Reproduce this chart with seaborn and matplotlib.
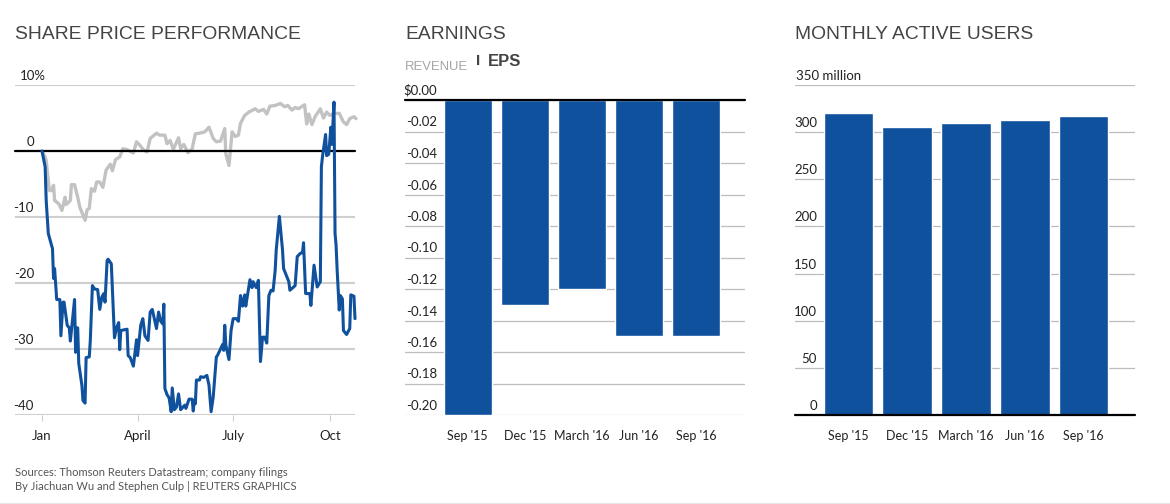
import matplotlib
import pandas as pd
import seaborn as sns
from matplotlib import pyplot as plt
from matplotlib.lines import Line2D

matplotlib.use("Agg")

# share price, days since Jan 1 / percent change
blue_days = [0, 3, 4, 6, 10, 11, 12, 14, 17, 18, 20, 21, 24, 26, 27, 31, 32, 33, 34, 35, 38, 39, 41, 42, 45, 46, 48, 50, 53, 55,
             57, 59, 60, 62, 63, 66, 69, 71, 73, 74, 75, 81, 82, 84, 87, 90, 91, 94, 96, 98, 101, 103, 105, 109, 111, 113, 115, 116, 117, 119,
             121, 123, 124, 126, 128, 130, 132, 136, 137, 140, 143, 144, 145, 146, 147, 150, 151, 154, 157, 159, 161, 163, 166, 167, 170, 172, 173, 174, 175, 178,
             180, 182, 185, 187, 189, 191, 193, 194, 198, 200, 201, 204, 206, 208, 210, 212, 214, 216, 218, 220, 222, 223, 226, 229, 230, 235, 236, 241, 243, 246,
             248, 249, 251, 255, 256, 259, 262, 265, 266, 267, 270, 271, 273, 275, 276, 278, 279, 280, 281, 283, 284, 286, 287, 290, 293, 294, 297, 298]
blue_values = [0, -2.4, -7.5, -12.5, -14.8, -19.3, -17.8, -22.5, -22.5, -28, -22.9, -22.9, -26.4, -26.8, -28.8, -22.5, -30.5, -26.8, -26.8, -32.2, -35.5, -37.8, -38.2, -31.3, -31.2, -28.7, -20.4, -20.9, -21, -24,
               -22.1, -21.6, -22.9, -16.6, -16.4, -17.1, -28.3, -26.8, -26, -30.1, -27.2, -27, -31, -31.3, -32.6, -28.6, -31, -26.4, -25.4, -28, -28.7, -24.4, -24, -26.9, -24.4, -25.8, -26.2, -23.2, -36, -36.9,
               -37.4, -39.5, -35.9, -39.2, -38.8, -36.8, -39.2, -38.5, -39, -37.6, -37.6, -39.4, -37.8, -38.3, -34.7, -34.7, -34.2, -34.3, -34, -35.5, -39.5, -37.3, -31.2, -31, -30, -29.3, -30.2, -26.4, -29.4, -31.6,
               -27.2, -25.4, -25.4, -25.8, -21.9, -23.5, -21.8, -23.5, -19.5, -20.7, -19.8, -20.7, -19.6, -31.9, -28.2, -28.2, -29.1, -21.9, -21.1, -21.2, -18.1, -15, -9.9, -15, -17.8, -19.8, -21.1, -20.4, -16, -15.5,
               -15.4, -13.9, -21.6, -21.6, -23.4, -17.3, -20.6, -19.8, -2.4, -0.9, 2.5, -0.7, -0.5, 3.6, 1, 7.4, -12.5, -14.3, -18, -24.1, -21.9, -22.4, -27.2, -27.8, -26.9, -21.8, -22, -25.4]
gray_days = [0, 3, 4, 7, 9, 11, 12, 16, 19, 22, 23, 27, 28, 31, 34, 36, 41, 43, 45, 47, 50, 52, 55, 58, 61, 65, 67, 70, 74, 77,
             81, 87, 90, 93, 97, 100, 103, 109, 112, 117, 119, 122, 125, 130, 132, 135, 139, 143, 146, 150, 155, 159, 163, 166, 170, 174, 175, 178, 181, 184,
             187, 189, 193, 197, 203, 206, 211, 214, 217, 222, 227, 231, 234, 238, 241, 244, 250, 252, 254, 257, 260, 265, 268, 271, 274, 278, 283, 287, 290, 293,
             297, 299]
gray_values = [0, -0.9, -1.4, -6, -6, -5.2, -7.5, -8, -9, -7, -8.1, -7.5, -5.1, -5.1, -7, -8.5, -10.5, -8.9, -8.7, -5.7, -6.1, -4.7, -4.7, -5.5, -2.9, -2, -3, -1.3, -0.9, 0.35,
               0.2, -0.3, 1.4, 0.9, 0.1, -0.15, 1.9, 2.7, 2.4, 2.4, 1.1, 1.6, 0.25, 2, 0.35, 1, -0.25, 0.35, 2.6, 2.7, 2.9, 3.6, 1.9, 1.4, 1.5, 3.4, -0.4, -2.2, 2.9, 2.2,
               2.4, 4.2, 5.4, 5.9, 6.4, 6, 6.3, 5.6, 6.8, 6.9, 7.2, 6.7, 6.9, 6.2, 6.6, 6.4, 7, 4.1, 5.6, 4, 5.2, 6.4, 5, 5.9, 5.4, 5.7, 5.7, 4.4, 4, 4.9,
               5.2, 4.9]
month_days = [0, 91, 182, 274]
month_labels = ["Jan", "April", "July", "Oct"]
price_ticks = [-40, -30, -20, -10, 0, 10]
price_labels = ["-40", "-30", "-20", "-10", "0", "10%"]

quarters = ["Sep '15", "Dec '15", "March '16", "Jun '16", "Sep '16"]
eps = [-0.20, -0.13, -0.12, -0.15, -0.15]
eps_ticks = [-0.20, -0.18, -0.16, -0.14, -0.12, -0.10, -0.08, -0.06, -0.04, -0.02, 0.0]
eps_labels = ["-0.20", "-0.18", "-0.16", "-0.14", "-0.12", "-0.10", "-0.08", "-0.06", "-0.04", "-0.02", "$0.00"]
users = [320, 305, 310, 313, 317]
user_ticks = [0, 50, 100, 150, 200, 250, 300, 350]
user_labels = ["0", "50", "100", "150", "200", "250", "300", "350 million"]

BLUE = "#10519e"
GRAY_LINE = "#c2c2c2"
GRID = "#cfcfcf"
BAR_GRID = "#bcbcbc"
TITLE = "#444444"
LABEL = "#222222"
LABEL_SIZE = 9.5
W, H = 1170, 504


def make_axes(fig, left, top, right, bottom):
    ax = fig.add_axes([left / W, 1 - bottom / H, (right - left) / W, (bottom - top) / H])
    for spine in ax.spines.values():
        spine.set_visible(False)
    return ax


def style_y(ax, ticks, labels, label_right, grid_color, grid_width, top_left=None):
    ax.set_yticks(ticks)
    ax.set_yticklabels([])
    ax.tick_params(axis="y", length=0)
    ax.set_ylabel("")
    ax.set_xlabel("")
    ax.yaxis.grid(True, color=grid_color, linewidth=grid_width, zorder=0)
    ax.xaxis.grid(False)
    ax.set_axisbelow(True)
    for i, (tick, label) in enumerate(zip(ticks, labels)):
        # the top label starts at a fixed x, the rest share a right edge
        if top_left is not None and i == len(ticks) - 1:
            x, ha = top_left, "left"
        else:
            x, ha = label_right, "right"
        ax.annotate(label, (0, tick), xycoords=ax.get_yaxis_transform(), xytext=(x, 3),
                    textcoords="offset pixels", ha=ha, va="bottom", fontsize=LABEL_SIZE, color=LABEL,
                    annotation_clip=False)


def style_x(ax, length, pad, size):
    ax.tick_params(axis="x", length=length, width=0.8, color=GRID, pad=pad, bottom=length > 0,
                   labelsize=size, labelcolor=LABEL)
    for label in ax.get_xticklabels():
        label.set_va("baseline")


def main():
    sns.set_theme(style="white")
    plt.rcParams["font.family"] = ["Lato", "DejaVu Sans"]
    fig = plt.figure(figsize=(W / 100, H / 100), dpi=100)
    fig.patch.set_facecolor("white")

    # share price
    ax = make_axes(fig, 15, 85, 355, 415)
    gray = pd.DataFrame({"day": gray_days, "pct": gray_values})
    blue = pd.DataFrame({"day": blue_days, "pct": blue_values})
    sns.lineplot(data=gray, x="day", y="pct", color=GRAY_LINE, linewidth=2.4, estimator=None, zorder=3, ax=ax)
    sns.lineplot(data=blue, x="day", y="pct", color=BLUE, linewidth=2.2, estimator=None, zorder=5, ax=ax)
    ax.axhline(0, color="black", linewidth=1.6, zorder=4)
    ax.set_xlim(-25.7, 298)
    ax.set_ylim(-40, 10)
    style_y(ax, price_ticks, price_labels, 19, GRID, 1.5, top_left=5)
    ax.set_xticks(month_days)
    ax.set_xticklabels(month_labels)
    style_x(ax, 4.5, 13.5, LABEL_SIZE)
    for line in ax.get_lines():
        line.set_clip_on(False)

    # earnings per share
    ax = make_axes(fig, 405, 100, 745, 415)
    sns.barplot(x=quarters, y=eps, color=BLUE, saturation=1, width=0.84, ax=ax, zorder=3)
    ax.set_xlim(-1.10, 4.86)
    ax.set_ylim(-0.20, 0)
    style_y(ax, eps_ticks, eps_labels, 32, BAR_GRID, 0.9)
    ax.axhline(0, color="black", linewidth=1.6, zorder=4, clip_on=False)
    style_x(ax, 0, 18, 9)

    # monthly active users
    ax = make_axes(fig, 795, 85, 1135, 415)
    sns.barplot(x=quarters, y=users, color=BLUE, saturation=1, width=0.845, ax=ax, zorder=3)
    ax.set_xlim(-0.91, 4.875)
    ax.set_ylim(0, 350)
    style_y(ax, user_ticks, user_labels, 22, BAR_GRID, 0.9, top_left=1)
    ax.axhline(0, color="black", linewidth=1.6, zorder=4, clip_on=False)
    style_x(ax, 0, 18, 9)

    for x, title in [(15, "SHARE PRICE PERFORMANCE"), (405, "EARNINGS"), (795, "MONTHLY ACTIVE USERS")]:
        fig.text(x / W, 1 - 34.5 / H, title, fontsize=13.9, color=TITLE, family="Liberation Sans", va="center")
    fig.text(405 / W, 1 - 67 / H, "REVENUE", fontsize=9.4, color="#a5a5a5", va="center", family="Liberation Sans")
    fig.text(476 / W, 1 - 61 / H, "I", fontsize=11, color=TITLE, va="center", weight="bold", family="Liberation Sans")
    fig.text(488 / W, 1 - 61 / H, "EPS", fontsize=12, color=TITLE, va="center", weight="bold", family="Liberation Sans")
    fig.text(15 / W, 1 - 472 / H, "Sources: Thomson Reuters Datastream; company filings", fontsize=8, color="#555555", va="center")
    fig.text(15 / W, 1 - 487 / H, "By Jiachuan Wu and Stephen Culp | REUTERS GRAPHICS", fontsize=8, color="#555555", va="center")
    fig.add_artist(Line2D([0, 1], [0.5 / H, 0.5 / H], color="#e6e6e6", linewidth=1.5))

    fig.savefig("out.png", dpi=100)


if __name__ == "__main__":
    main()
